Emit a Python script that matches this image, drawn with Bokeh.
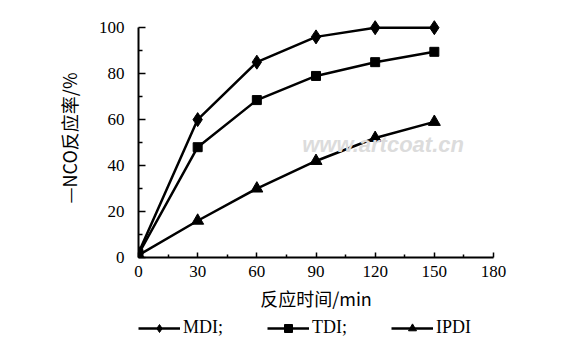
from bokeh.plotting import figure
from bokeh.layouts import column
from bokeh.models import Legend, LegendItem, Range1d, FixedTicker, Label
from bokeh.embed import file_html
from bokeh.resources import INLINE

time_min = [0, 30, 60, 90, 120, 150]
mdi = [2, 60, 85, 96, 100, 100]
tdi = [1.5, 48, 68.5, 79, 85, 89.5]
ipdi = [1, 16, 30, 42, 52, 59]
x_ticks = [0, 30, 60, 90, 120, 150, 180]
y_ticks = [0, 20, 40, 60, 80, 100]
series_names = ["MDI;", "TDI;", "IPDI"]
markers = ["diamond", "square", "triangle"]

FONT = "Liberation Serif"
CJK = "Noto Sans CJK SC"

p = figure(width=560, height=315, output_backend="svg", toolbar_location=None,
           x_range=Range1d(0, 180), y_range=Range1d(0, 104),
           min_border_left=138, min_border_right=67, min_border_top=18, min_border_bottom=58)
p.grid.visible = False
p.outline_line_color = None
p.background_fill_color = "white"

for ax in (p.xaxis[0], p.yaxis[0]):
    ax.axis_line_width = 2
    ax.axis_line_color = "black"
    ax.major_tick_line_width = 1.5
    ax.minor_tick_line_width = 1.5
    ax.major_tick_out = 0
    ax.minor_tick_out = 0
    ax.major_label_text_font = FONT
    ax.major_label_text_font_size = "17px"
    ax.major_label_text_color = "black"
    ax.axis_label_text_font_style = "normal"
    ax.axis_label_text_color = "black"
    ax.axis_label_text_font = CJK

p.yaxis.bounds = (0, 100)
p.xaxis.ticker = FixedTicker(ticks=x_ticks, minor_ticks=[15, 45, 75, 105, 135, 165])
p.yaxis.ticker = FixedTicker(ticks=y_ticks, minor_ticks=[10, 30, 50, 70, 90])
p.xaxis.major_tick_in = 5
p.xaxis.minor_tick_in = 3
p.yaxis.major_tick_in = 7
p.yaxis.minor_tick_in = 4
p.xaxis.major_label_standoff = 8
p.yaxis.major_label_standoff = 14
p.xaxis.axis_label = "反应时间/min"
p.yaxis.axis_label = "—NCO反应率/%"
p.xaxis.axis_label_text_font_size = "18px"
p.yaxis.axis_label_text_font_size = "18px"
p.xaxis.axis_label_standoff = 5
p.yaxis.axis_label_standoff = 14

# watermark
p.add_layout(Label(x=83, y=49, text="www.artcoat.cn", text_font="Liberation Sans",
                   text_font_size="22px", text_font_style="bold italic",
                   text_color="#dcdcdc", text_baseline="middle"))

lw = 2.5
series = [mdi, tdi, ipdi]
for ys, mk, sz in zip(series, markers, [14, 9, 12]):
    p.line(time_min, ys, line_color="black", line_width=lw)
    p.scatter(time_min, ys, marker=mk, size=sz, color="black")

# legend row below the chart (its renderers hold the first point, outside the visible range)
lg = figure(width=560, height=33, output_backend="svg", toolbar_location=None,
            x_range=Range1d(0, 1), y_range=Range1d(-2, -1),
            x_axis_type=None, y_axis_type=None, min_border=0)
lg.grid.visible = False
lg.outline_line_color = None
items = []
for name, mk, ys in zip(series_names, markers, series):
    r1 = lg.line(x=time_min[:1], y=ys[:1], line_color="black", line_width=2.5)
    r2 = lg.scatter(x=time_min[:1], y=ys[:1], marker=mk, color="black")
    items.append(LegendItem(label=name, renderers=[r1, r2]))
legend = Legend(items=items, orientation="horizontal", location=(0, 10),
                glyph_width=42, glyph_height=20, label_standoff=3, spacing=44,
                label_text_font=FONT, label_text_font_size="18px",
                label_text_color="black",
                border_line_alpha=0, background_fill_alpha=0,
                padding=0, margin=0)
lg.add_layout(legend, "center")

layout = column(p, lg, spacing=0)
open("out.html", "w").write(file_html(layout, INLINE))
